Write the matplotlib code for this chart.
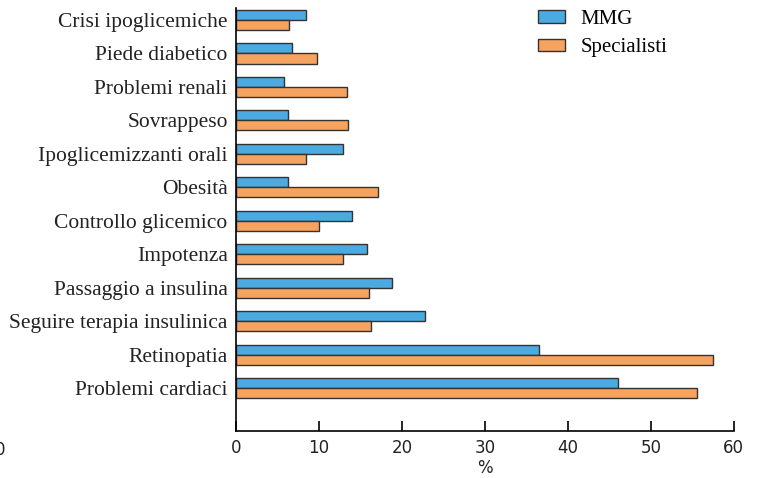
import matplotlib
matplotlib.use("Agg")
import matplotlib.pyplot as plt
import numpy as np

categories = ["Crisi ipoglicemiche", "Piede diabetico", "Problemi renali", "Sovrappeso",
              "Ipoglicemizzanti orali", "Obesità", "Controllo glicemico", "Impotenza",
              "Passaggio a insulina", "Seguire terapia insulinica", "Retinopatia", "Problemi cardiaci"]
mmg = [8.4, 6.8, 5.8, 6.3, 12.9, 6.3, 14.0, 15.8, 18.8, 22.8, 36.5, 46.0]
specialisti = [6.4, 9.8, 13.4, 13.5, 8.4, 17.1, 10.0, 12.9, 16.0, 16.3, 57.5, 55.6]
xticks = [0, 10, 20, 30, 40, 50, 60]

blue = "#4BAADF"
orange = "#F5A35F"
edge = "#333333"

fig = plt.figure(figsize=(7.6, 4.78), dpi=100)
ax = fig.add_axes([0.3105, 0.0983, 0.655, 0.885])

y = np.arange(len(categories))
h = 0.3
ax.barh(y - h / 2, mmg, height=h, color=blue, edgecolor=edge, linewidth=1.0, label="MMG")
ax.barh(y + h / 2, specialisti, height=h, color=orange, edgecolor=edge, linewidth=1.0, label="Specialisti")

ax.set_ylim(len(categories) - 1 + 1.28, -0.36)
ax.set_xlim(0, 60)
ax.set_yticks(y)
ax.set_yticklabels(categories, family="Liberation Serif", fontsize=15.5, color="#222222")
ax.tick_params(axis="y", length=0, pad=6)
ax.set_xticks(xticks)
ax.set_xticklabels([str(t) for t in xticks], family="DejaVu Sans", fontsize=12, color="#222222")
ax.tick_params(axis="x", direction="in", length=7, width=1.2, pad=6)
for s in ["top", "right"]:
    ax.spines[s].set_visible(False)
for s in ["left", "bottom"]:
    ax.spines[s].set_linewidth(1.2)
ax.set_xlabel("%", family="DejaVu Sans", fontsize=12, labelpad=1, color="#222222")

leg = ax.legend(loc="upper left", bbox_to_anchor=(0.569, 1.04), frameon=False,
                prop={"family": "Liberation Serif", "size": 15},
                handlelength=1.3, handleheight=0.55, handletextpad=0.75, labelspacing=0.45)

fig.text(0.0, 0.058, "0", family="DejaVu Sans", fontsize=12, ha="center", va="center", color="#222222")

fig.savefig("out.png", dpi=100)
